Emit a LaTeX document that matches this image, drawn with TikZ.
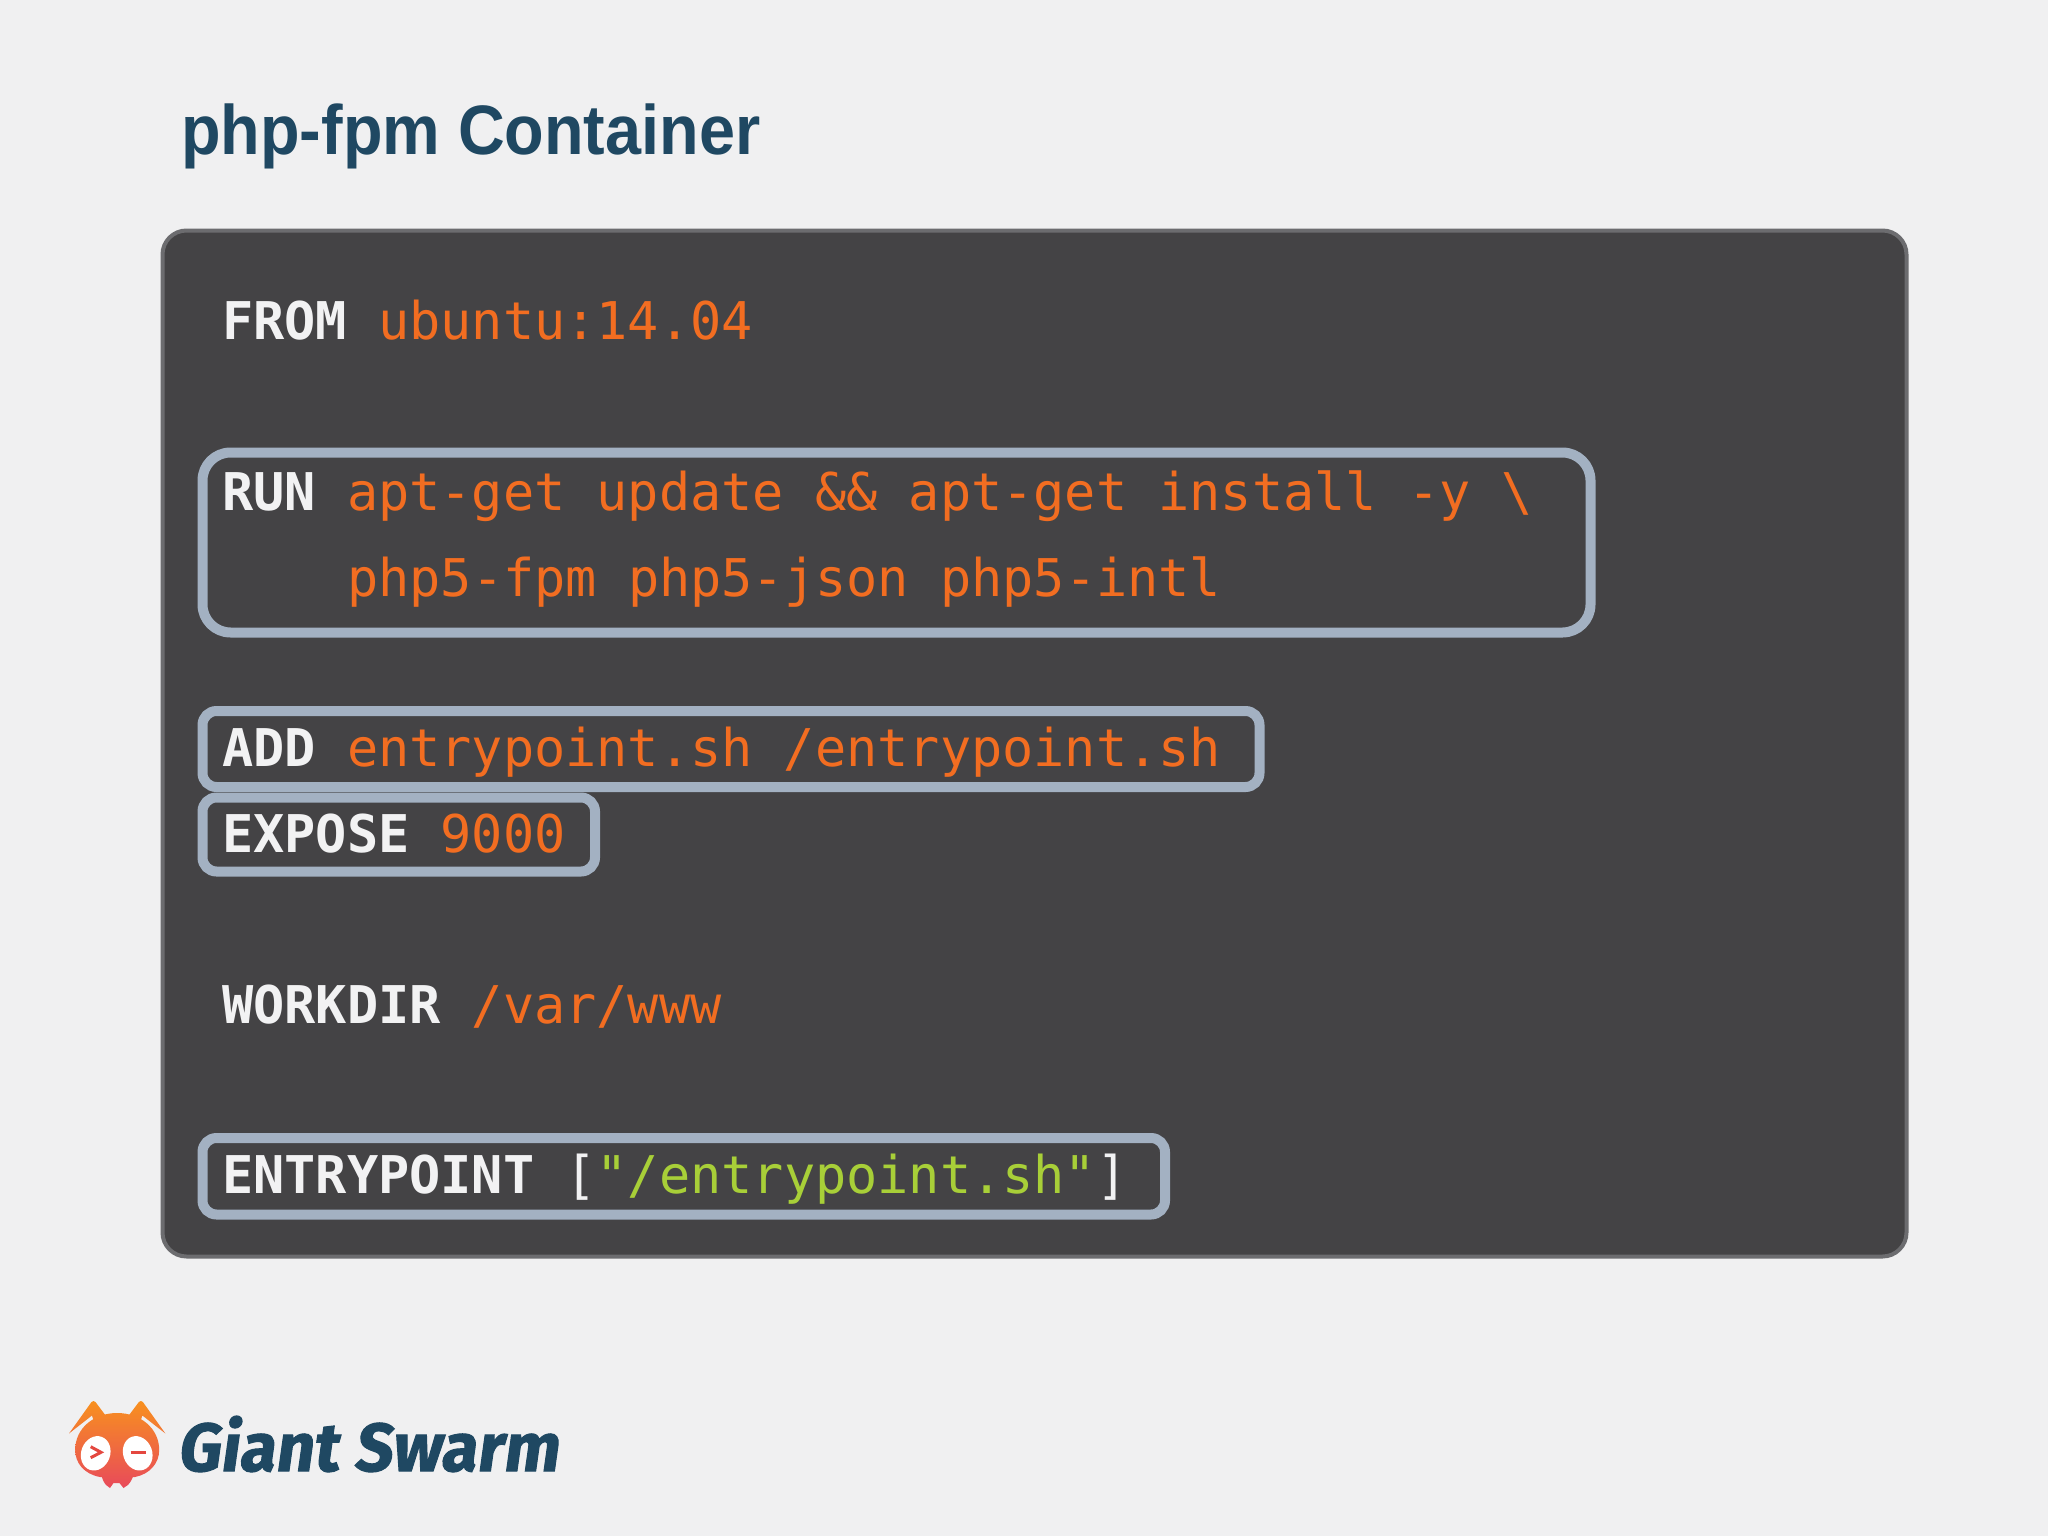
\documentclass[tikz,border=0pt]{standalone}
\usepackage{fontspec}
\setmainfont{Liberation Sans}
\newfontfamily\codefont[FakeStretch=0.997]{DejaVu Sans Mono}
\newfontfamily\titlefont[FakeStretch=0.925]{Liberation Sans}
\newfontfamily\logofont[FakeSlant=0.14,FakeStretch=0.97,FakeBold=1.5]{Fira Sans}
\definecolor{pagebg}{HTML}{F0F0F1}
\definecolor{panelfill}{HTML}{444345}
\definecolor{panelline}{HTML}{6C6C6F}
\definecolor{boxline}{HTML}{A3B1C2}
\definecolor{codeorange}{HTML}{F26D21}
\definecolor{codegreen}{HTML}{A8CF38}
\definecolor{codewhite}{HTML}{F2F2F3}
\definecolor{navy}{HTML}{1F4862}
\definecolor{antA}{HTML}{F8931D}
\definecolor{antB}{HTML}{E8485C}
\definecolor{antC}{HTML}{E4473F}
\newcommand{\kw}[1]{\textcolor{codewhite}{\bfseries #1}}
\newcommand{\val}[1]{\textcolor{codeorange}{#1}}
\newcommand{\str}[1]{\textcolor{codegreen}{#1}}
\newcommand{\antshade}{\shade[top color=antA,bottom color=antB] (60,-1398) rectangle (175,-1490);}
\tikzset{
  panel/.style={draw=panelline,fill=panelfill,line width=4pt,rounded corners=24pt,rectangle,anchor=north west,inner sep=0pt,outer sep=0pt},
  hilite/.style={draw=boxline,line width=10pt,rectangle,anchor=north west,inner sep=0pt,outer sep=0pt},
  code/.style={anchor=base west,inner sep=0pt,font=\codefont\fontsize{52}{52}\selectfont,text=codewhite},
}
\begin{document}
\begin{tikzpicture}[x=1pt,y=1pt]
\useasboundingbox[fill=pagebg] (0,0) rectangle (2048,-1536);
\node[anchor=base west,inner sep=0pt,text=navy,font=\titlefont\bfseries\fontsize{70}{70}\selectfont] (title) at (181,-155) {php-fpm Container};
\node[panel,minimum width=1744pt,minimum height=1026pt] (panel) at (162.5,-230.5) {};
\node[hilite,rounded corners=28pt,minimum width=1388pt,minimum height=180pt] (runbox) at (202.5,-452.5) {};
\node[hilite,rounded corners=14pt,minimum width=1057pt,minimum height=76pt] (addbox) at (202.5,-711) {};
\node[hilite,rounded corners=14pt,minimum width=392.5pt,minimum height=74pt] (exposebox) at (202.5,-797.5) {};
\node[hilite,rounded corners=14pt,minimum width=962.5pt,minimum height=76.5pt] (entrybox) at (202.5,-1138) {};
\node[code] (from) at (222,-339) {\kw{FROM} \val{ubuntu:14.04}};
\node[code] (run) at (222,-510) {\kw{RUN} \val{apt-get update \&\& apt-get install -y \textbackslash}};
\node[code] (runb) at (347,-596) {\val{php5-fpm php5-json php5-intl}};
\node[code] (add) at (222,-766) {\kw{ADD} \val{entrypoint.sh /entrypoint.sh}};
\node[code] (expose) at (222,-852) {\kw{EXPOSE} \val{9000}};
\node[code] (workdir) at (222,-1023) {\kw{WORKDIR} \val{/var/www}};
\node[code] (entry) at (222,-1193) {\kw{ENTRYPOINT} [\str{"/entrypoint.sh"}]};
% logo
\begin{scope}\clip (117.2,-1413) .. controls (140,-1413) and (159.2,-1428) .. (159.2,-1450) .. controls (159.2,-1463) and (150,-1474) .. (135,-1477) -- (100,-1477) .. controls (84,-1474) and (75.2,-1463) .. (75.2,-1450) .. controls (75.2,-1428) and (94,-1413) .. (117.2,-1413) -- cycle; \antshade\end{scope}
\begin{scope}\clip (100,-1466) .. controls (101,-1478) and (104,-1485) .. (110,-1488) -- (113.5,-1483) -- (119.5,-1483) -- (123.5,-1488) .. controls (130,-1485) and (134,-1478) .. (135,-1466) -- cycle; \antshade\end{scope}
\begin{scope}\clip (69,-1433.5) -- (91.5,-1402) -- (93.5,-1401) -- (95.5,-1402) -- (106,-1416) -- (100,-1420) -- (94.5,-1423) -- (92,-1415.5) -- cycle; \antshade\end{scope}
\begin{scope}\clip (165.4,-1433.5) -- (142.9,-1402) -- (140.9,-1401) -- (138.9,-1402) -- (128.4,-1416) -- (134.4,-1420) -- (139.9,-1423) -- (142.4,-1415.5) -- cycle; \antshade\end{scope}
\fill[white,rotate around={-20:(95.7,-1453.3)}] (95.7,-1453.3) ellipse (14.5pt and 17.5pt);
\fill[white,rotate around={20:(137.7,-1453.3)}] (137.7,-1453.3) ellipse (14.5pt and 17.5pt);
\draw[antC,line width=3pt] (90.7,-1446.7) -- (101,-1452.3) -- (90.7,-1457.7);
\draw[antC,line width=3pt] (130.7,-1452) -- (146,-1452);
\node[anchor=base west,inner sep=0pt,text=navy,font=\logofont\bfseries\fontsize{68}{68}\selectfont] (brand) at (177,-1471) {Giant Swarm};
\end{tikzpicture}
\end{document}
